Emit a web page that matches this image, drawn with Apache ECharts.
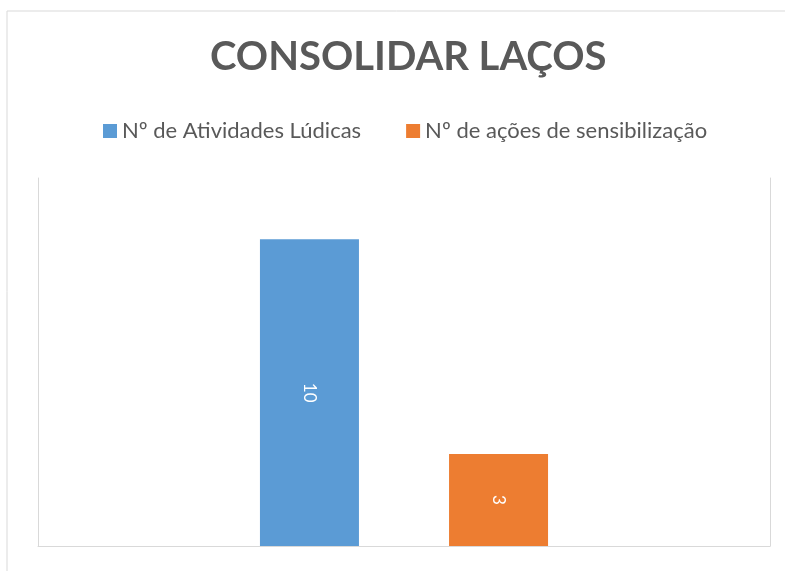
<!doctype html>
<html>
    <head>
        <meta charset="utf-8">
        <title>CONSOLIDAR LAÇOS</title>
        <style>
            html, body { margin: 0; padding: 0; background: #fff; }
            #main { width: 785px; height: 571px; }
        </style>
    </head>
    <body>
        <div id="main"></div>
        <script src="https://cdn.jsdelivr.net/npm/echarts@6/dist/echarts.min.js"></script>
        <script>
            var categories = [''];
            var seriesNames = ['Nº de Atividades Lúdicas', 'Nº de ações de sensibilização'];
            var atividades = [10];
            var acoes = [3];
            var colors = ['#5b9bd5', '#ed7d31'];

            var chart = echarts.init(document.getElementById('main'));

            var barLabel = {
                show: true,
                position: 'inside',
                rotate: -90,
                color: '#fff',
                fontFamily: 'Lato',
                fontSize: 17
            };

            chart.setOption({
                backgroundColor: '#fff',
                graphic: [{
                    type: 'rect',
                    shape: { x: 7, y: 11, width: 800, height: 600 },
                    style: { fill: 'none', stroke: '#d9d9d9', lineWidth: 1 },
                    silent: true
                }],
                title: {
                    text: 'CONSOLIDAR LAÇOS',
                    left: 205,
                    top: 32,
                    textStyle: {
                        fontFamily: 'Lato',
                        fontWeight: 'bold',
                        fontSize: 40,
                        color: '#595959'
                    }
                },
                legend: {
                    top: 115,
                    left: 98,
                    itemWidth: 14,
                    itemHeight: 14,
                    itemGap: 45,
                    icon: 'rect',
                    textStyle: {
                        fontFamily: 'Lato',
                        fontSize: 22,
                        color: '#595959'
                    },
                    data: seriesNames
                },
                grid: {
                    left: 38,
                    right: 15,
                    top: 178,
                    bottom: 25
                },
                xAxis: {
                    type: 'category',
                    data: categories,
                    axisLine: { show: true, lineStyle: { color: '#d9d9d9', width: 1 } },
                    axisTick: { show: false },
                    axisLabel: { show: false }
                },
                yAxis: [{
                    type: 'value',
                    min: 0,
                    max: 12,
                    interval: 2,
                    axisLine: { show: true, lineStyle: { color: '#d9d9d9', width: 1 } },
                    axisTick: { show: false },
                    axisLabel: { show: false },
                    splitLine: { show: false }
                }, {
                    type: 'value',
                    position: 'right',
                    min: 0,
                    max: 12,
                    interval: 2,
                    axisLine: { show: true, lineStyle: { color: '#d9d9d9', width: 1 } },
                    axisTick: { show: false },
                    axisLabel: { show: false },
                    splitLine: { show: false }
                }],
                series: [{
                    name: seriesNames[0],
                    type: 'bar',
                    data: atividades,
                    barWidth: 99,
                    barGap: '91%',
                    itemStyle: { color: colors[0] },
                    label: barLabel
                }, {
                    name: seriesNames[1],
                    type: 'bar',
                    data: acoes,
                    barWidth: 99,
                    barGap: '91%',
                    itemStyle: { color: colors[1] },
                    label: barLabel
                }]
            });
        </script>
    </body>
</html>
